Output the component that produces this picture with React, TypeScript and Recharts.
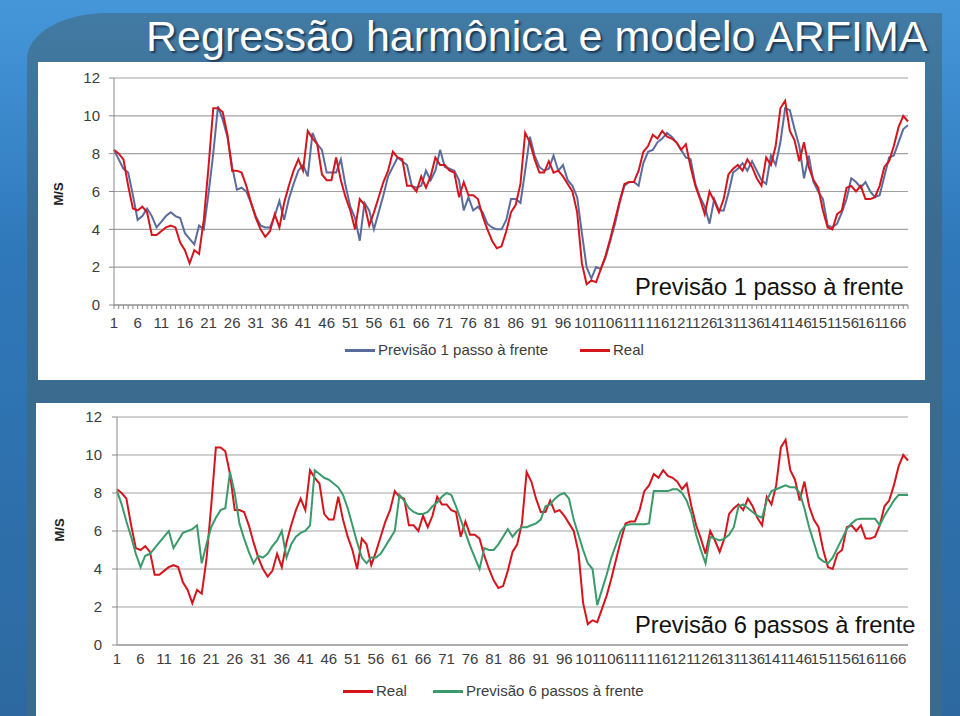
import { LineChart, Line, XAxis, YAxis, CartesianGrid } from 'recharts';

// wind speed (m/s), one value per observation
const REAL = [
  8.2, 8.0, 7.7, 6.3, 5.1, 5.0, 5.2, 4.9, 3.7, 3.7,
  3.9, 4.1, 4.2, 4.1, 3.3, 2.9, 2.2, 2.9, 2.7, 4.5,
  7.3, 10.4, 10.4, 10.2, 9.0, 7.1, 7.1, 7.0, 6.3, 5.4,
  4.6, 4.0, 3.6, 3.9, 4.8, 4.1, 5.4, 6.3, 7.1, 7.7,
  7.1, 9.2, 8.8, 8.5, 6.9, 6.6, 6.6, 7.8, 6.6, 5.7,
  5.0, 4.0, 5.6, 5.3, 4.2, 4.9, 5.7, 6.5, 7.1, 8.1,
  7.8, 7.7, 6.3, 6.3, 6.0, 6.8, 6.2, 6.8, 7.8, 7.4,
  7.4, 7.1, 7.0, 5.7, 6.5, 5.8, 5.8, 5.6, 4.7, 4.0,
  3.4, 3.0, 3.1, 3.9, 4.9, 5.3, 6.4, 9.1, 8.6, 7.7,
  7.0, 7.0, 7.6, 7.0, 7.1, 6.8, 6.4, 6.0, 4.9, 2.2,
  1.1, 1.3, 1.2, 1.9, 2.6, 3.5, 4.5, 5.5, 6.4, 6.5,
  6.5, 7.1, 8.1, 8.4, 9.0, 8.8, 9.2, 8.9, 8.8, 8.6,
  8.2, 8.5, 7.3, 6.3, 5.6, 4.8, 6.0, 5.5, 4.9, 5.6,
  6.9, 7.2, 7.4, 7.1, 7.7, 7.3, 6.7, 6.3, 7.8, 7.4,
  8.4, 10.4, 10.8, 9.2, 8.7, 7.6, 8.6, 7.3, 6.6, 6.2,
  5.0, 4.1, 4.0, 4.8, 5.0, 6.2, 6.3, 6.0, 6.3, 5.6,
  5.6, 5.7, 6.3, 7.3, 7.6, 8.4, 9.4, 10.0, 9.7,
];

const PREV_1 = [
  8.2, 7.7, 7.2, 7.0, 5.8, 4.5, 4.7, 5.1, 4.7, 4.1,
  4.4, 4.7, 4.9, 4.7, 4.6, 3.8, 3.5, 3.2, 4.2, 4.0,
  5.9, 8.0, 10.5, 9.8, 8.9, 7.3, 6.1, 6.2, 6.0, 5.4,
  4.7, 4.2, 4.1, 4.1, 4.7, 5.5, 4.5, 5.6, 6.4, 7.1,
  7.4, 6.8, 9.1, 8.5, 8.2, 7.0, 7.0, 7.0, 7.7, 6.3,
  5.2, 4.6, 3.4, 5.4, 5.0, 4.0, 4.9, 5.8, 6.8, 7.3,
  7.8, 7.6, 7.4, 6.3, 6.2, 6.3, 7.1, 6.6, 7.1, 8.2,
  7.3, 7.2, 7.1, 6.6, 5.0, 5.7, 5.0, 5.2, 4.9, 4.3,
  4.1, 4.0, 4.0, 4.5, 5.6, 5.6, 5.4, 7.1, 8.9, 7.9,
  7.3, 7.1, 7.2, 7.9, 7.1, 7.4, 6.6, 6.3, 5.7, 3.8,
  2.0, 1.4, 2.0, 1.9, 2.5, 3.4, 4.3, 5.4, 6.3, 6.5,
  6.5, 6.3, 7.5, 8.1, 8.2, 8.6, 8.8, 9.1, 8.9, 8.6,
  8.2, 7.8, 7.7, 6.4, 5.7, 5.2, 4.3, 5.6, 5.0, 5.0,
  5.9, 7.0, 7.2, 7.5, 7.1, 7.6, 7.1, 6.6, 6.4, 7.9,
  7.4, 8.6, 10.4, 10.3, 9.3, 8.4, 6.7, 7.9, 6.5, 6.0,
  5.6, 4.2, 4.1, 4.3, 4.9, 5.6, 6.7, 6.5, 6.2, 6.5,
  6.0, 5.7, 5.8, 6.8, 7.8, 7.9, 8.6, 9.3, 9.5,
];

const PREV_6 = [
  8.1, 7.4, 6.5, 5.7, 4.8, 4.1, 4.7, 4.8, 5.1, 5.4,
  5.7, 6.0, 5.1, 5.5, 5.9, 6.0, 6.1, 6.3, 4.3, 5.3,
  6.2, 6.7, 7.1, 7.2, 9.1, 8.0, 6.4, 5.6, 4.9, 4.3,
  4.7, 4.6, 4.8, 5.2, 5.5, 6.0, 4.6, 5.3, 5.7, 5.9,
  6.0, 6.3, 9.2, 9.0, 8.8, 8.7, 8.5, 8.3, 7.9, 7.2,
  6.3, 5.4, 4.6, 4.3, 4.6, 4.6, 4.8, 5.2, 5.6, 6.0,
  7.9, 7.6, 7.2, 7.0, 6.9, 6.9, 7.0, 7.3, 7.5, 7.8,
  8.0, 7.9, 7.3, 6.6, 5.9, 5.2, 4.6, 4.0, 5.1, 5.0,
  5.0, 5.3, 5.7, 6.1, 5.7, 6.0, 6.2, 6.2, 6.3, 6.4,
  6.6, 7.3, 7.4, 7.7, 7.9, 8.0, 7.7, 6.6, 5.8, 5.0,
  4.3, 4.0, 2.1, 2.9, 3.7, 4.6, 5.3, 6.0, 6.3, 6.35,
  6.35, 6.35, 6.35, 6.4, 8.1, 8.1, 8.1, 8.1, 8.2, 8.2,
  8.0, 7.6, 6.9, 5.8, 5.0, 4.3, 5.7, 5.6, 5.5, 5.6,
  5.8, 6.2, 7.3, 7.4, 7.2, 7.0, 6.8, 6.7, 7.6, 8.1,
  8.2, 8.3, 8.4, 8.3, 8.3, 8.0, 7.2, 6.2, 5.4, 4.6,
  4.4, 4.3, 4.6, 5.1, 5.6, 6.1, 6.4, 6.6, 6.65, 6.65,
  6.65, 6.65, 6.3, 6.8, 7.2, 7.6, 7.9, 7.9, 7.9,
];

const Y_TICKS = [0, 2, 4, 6, 8, 10, 12];
const LABEL_STEP = 5;
const CATEGORIES = REAL.map((_, i) => String(i + 1));

const COLORS = {
  real: '#d5151d',
  prev1: '#5b6b9c',
  prev6: '#3b9a6b',
  grid: '#a2a2a2',
  axis: '#8a8a8a',
  text: '#3c3c3c',
};
const SANS = "'Liberation Sans', Arial, Helvetica, sans-serif";

const topRows = CATEGORIES.map((n, i) => ({ n, real: REAL[i], prev: PREV_1[i] }));
const bottomRows = CATEGORIES.map((n, i) => ({ n, real: REAL[i], prev: PREV_6[i] }));

const CategoryTick = (props: any) => {
  const { x, y, payload } = props;
  if ((Number(payload.value) - 1) % LABEL_STEP !== 0) return <g />;
  return (
    <text x={x} y={y} dy={19} textAnchor="middle" fill={COLORS.text} fontFamily={SANS} fontSize={15}>
      {payload.value}
    </text>
  );
};

const LegendKey = ({ x, y, color, label }: { x: number; y: number; color: string; label: string }) => (
  <>
    <div style={{ position: 'absolute', left: x, top: y - 1, width: 30, height: 3, background: color }} />
    <div
      style={{
        position: 'absolute', left: x + 33, top: y - 9, fontFamily: SANS, fontSize: 15,
        lineHeight: '18px', color: COLORS.text, whiteSpace: 'nowrap',
      }}
    >
      {label}
    </div>
  </>
);

const AxisTitle = ({ x, y }: { x: number; y: number }) => (
  <div
    style={{
      position: 'absolute', left: x - 20, top: y - 8, width: 40, height: 16, textAlign: 'center',
      transform: 'rotate(-90deg)', fontFamily: SANS, fontWeight: 700, fontSize: 13,
      lineHeight: '16px', color: '#222',
    }}
  >
    M/S
  </div>
);

const Overlay = ({ x, y, text }: { x: number; y: number; text: string }) => (
  <div
    style={{
      position: 'absolute', left: x, top: y, fontFamily: SANS, fontSize: 23.7, lineHeight: '24px',
      color: '#111', whiteSpace: 'nowrap',
    }}
  >
    {text}
  </div>
);

export default function App() {
  return (
    <div
      style={{
        position: 'absolute', left: 0, top: 0, width: 960, height: 716, overflow: 'hidden',
        background: 'linear-gradient(180deg, #4597da 0%, #2f78ba 35%, #2d69a0 100%)',
      }}
    >
      <div
        style={{
          position: 'absolute', left: 27, top: 13, width: 915, height: 703,
          background: 'linear-gradient(180deg, #417aa3 0%, #3b6c90 30%, #3a6a8d 100%)',
          borderTopLeftRadius: '80px 46px',
        }}
      />
      <div
        style={{
          position: 'absolute', left: 146, top: 15, fontFamily: SANS, fontSize: 43, lineHeight: '43px',
          color: '#fff', whiteSpace: 'nowrap', textShadow: '2px 2px 2px #1b3752',
        }}
      >
        Regressão harmônica e modelo ARFIMA
      </div>

      {/* previsão 1 passo */}
      <div style={{ position: 'absolute', left: 38, top: 62, width: 887, height: 318, background: '#fff' }}>
        <LineChart width={887} height={318} data={topRows} margin={{ top: 16, right: 17, bottom: 40, left: 0 }}>
          <CartesianGrid vertical={false} stroke={COLORS.grid} strokeWidth={1.2} />
          <XAxis
            dataKey="n" interval={0} height={35} tick={<CategoryTick />} tickSize={4} tickMargin={0}
            stroke={COLORS.axis}
          />
          <YAxis
            width={76} domain={[0, 12]} ticks={Y_TICKS} tickSize={5} tickMargin={9} stroke={COLORS.axis}
            tick={{ fill: COLORS.text, fontFamily: SANS, fontSize: 15 }}
          />
          <Line dataKey="prev" type="linear" stroke={COLORS.prev1} strokeWidth={2} dot={false} isAnimationActive={false} />
          <Line dataKey="real" type="linear" stroke={COLORS.real} strokeWidth={2} dot={false} isAnimationActive={false} />
        </LineChart>
      </div>
      <AxisTitle x={59} y={194} />
      <LegendKey x={345} y={350} color={COLORS.prev1} label="Previsão 1 passo à frente" />
      <LegendKey x={580} y={350} color={COLORS.real} label="Real" />
      <Overlay x={635} y={275} text="Previsão 1 passo à frente" />

      {/* previsão 6 passos */}
      <div style={{ position: 'absolute', left: 36, top: 403, width: 894, height: 313, background: '#fff' }}>
        <LineChart width={894} height={313} data={bottomRows} margin={{ top: 14, right: 22, bottom: 36, left: 0 }}>
          <CartesianGrid vertical={false} stroke={COLORS.grid} strokeWidth={1.2} />
          <XAxis
            dataKey="n" interval={0} height={35} tick={<CategoryTick />} tickSize={0} tickMargin={0}
            stroke={COLORS.axis}
          />
          <YAxis
            width={81} domain={[0, 12]} ticks={Y_TICKS} tickSize={5} tickMargin={10} stroke={COLORS.axis}
            tick={{ fill: COLORS.text, fontFamily: SANS, fontSize: 15 }}
          />
          <Line dataKey="real" type="linear" stroke={COLORS.real} strokeWidth={2} dot={false} isAnimationActive={false} />
          <Line dataKey="prev" type="linear" stroke={COLORS.prev6} strokeWidth={2} dot={false} isAnimationActive={false} />
        </LineChart>
      </div>
      <AxisTitle x={60} y={530} />
      <LegendKey x={343} y={691} color={COLORS.real} label="Real" />
      <LegendKey x={433} y={691} color={COLORS.prev6} label="Previsão 6 passos à frente" />
      <Overlay x={635} y={613} text="Previsão 6 passos à frente" />
    </div>
  );
}
